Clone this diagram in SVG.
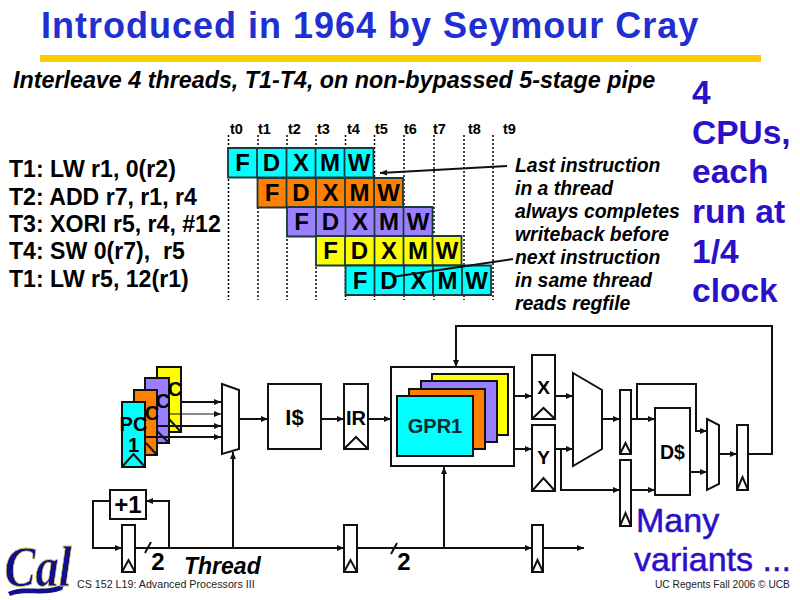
<svg xmlns="http://www.w3.org/2000/svg" width="800" height="600" viewBox="0 0 800 600">
<style>
text{font-family:"Liberation Sans",Arial,sans-serif;fill:#000}
.b{font-weight:700}
.bi{font-weight:700;font-style:italic}
.blue{fill:#2a10c8;font-weight:700;font-size:33.5px}
.instr{font-weight:700;font-size:23.1px;white-space:pre}
.note{font-weight:700;font-style:italic;font-size:19.4px}
.t{font-size:14.5px;font-weight:700}
.cy{fill:#00ffff}.or{fill:#ff8000}.pu{fill:#9a80ff}.ye{fill:#ffff00}
.cell{stroke:#1a3a3a;stroke-width:1.8}
.ct{font-weight:700;font-size:24px;text-anchor:middle}
.dot{stroke:#000;stroke-width:1.5;stroke-dasharray:2 2;fill:none}
.box{fill:#fff;stroke:#111;stroke-width:2}
.bc{stroke:#111;stroke-width:2}
.w{fill:none;stroke:#111;stroke-width:2}
.a{fill:none;stroke:#111;stroke-width:2;marker-end:url(#ah)}
.lb{font-weight:700;text-anchor:middle}
.many{font-size:34px;fill:#2a10c8;stroke:#2a10c8;stroke-width:.5}
</style>
<defs>
<marker id="ah" markerWidth="8" markerHeight="6" refX="7" refY="3" orient="auto" markerUnits="userSpaceOnUse"><path d="M0 0L7 3L0 6z" fill="#111"/></marker>
<g id="row"><path class="cell" d="M0 0h145.500v29.500h-145.500zM29 0v29.500M58.500 0v29.500M87.500 0v29.500M116.500 0v29.500" fill-opacity="0"/></g>
</defs>
<rect width="800" height="600" fill="#fff"/>
<g id="title"><text x="41" y="38" style="font-size:36px;fill:#2030d0;font-weight:700;letter-spacing:1px">Introduced in 1964 by Seymour Cray</text><rect x="40" y="55" width="721" height="7" fill="#ffcc00"/></g>
<g id="heading"><text x="13" y="88" class="bi" style="font-size:23.3px">Interleave 4 threads, T1-T4, on non-bypassed 5-stage pipe</text></g>
<g id="instructions">
<text x="9" y="177" class="instr">T1: LW r1, 0(r2)</text>
<text x="9" y="205" class="instr">T2: ADD r7, r1, r4</text>
<text x="9" y="232" class="instr">T3: XORI r5, r4, #12</text>
<text x="9" y="259" class="instr">T4: SW 0(r7),  r5</text>
<text x="9" y="287" class="instr">T1: LW r5, 12(r1)</text>
</g>
<g id="time-grid">
<path class="dot" d="M228.500 135V300M258 135V300M287 135V300M316 135V300M345.500 135V300M374.500 135V300M404 135V300M434 135V300M464 135V300M493 135V300"/>
<text x="230" y="134" class="t">t0</text><text x="258" y="134" class="t">t1</text><text x="288" y="134" class="t">t2</text><text x="317" y="134" class="t">t3</text><text x="347" y="134" class="t">t4</text><text x="375" y="134" class="t">t5</text><text x="404" y="134" class="t">t6</text><text x="433" y="134" class="t">t7</text><text x="468" y="134" class="t">t8</text><text x="503" y="134" class="t">t9</text>
</g>
<g id="pipeline">
<g transform="translate(228 148)"><rect class="cy" width="145.500" height="29.500"/><use href="#row"/><text class="ct" y="23"><tspan x="14.500">F</tspan><tspan x="43.500">D</tspan><tspan x="73">X</tspan><tspan x="102">M</tspan><tspan x="131">W</tspan></text></g>
<g transform="translate(257.500 178)"><rect class="or" width="145.500" height="29.500"/><use href="#row"/><text class="ct" y="23"><tspan x="14.500">F</tspan><tspan x="43.500">D</tspan><tspan x="73">X</tspan><tspan x="102">M</tspan><tspan x="131">W</tspan></text></g>
<g transform="translate(287 207)"><rect class="pu" width="145.500" height="29.500"/><use href="#row"/><text class="ct" y="23"><tspan x="14.500">F</tspan><tspan x="43.500">D</tspan><tspan x="73">X</tspan><tspan x="102">M</tspan><tspan x="131">W</tspan></text></g>
<g transform="translate(316 236)"><rect class="ye" width="145.500" height="29.500"/><use href="#row"/><text class="ct" y="23"><tspan x="14.500">F</tspan><tspan x="43.500">D</tspan><tspan x="73">X</tspan><tspan x="102">M</tspan><tspan x="131">W</tspan></text></g>
<g transform="translate(345.500 265.500)"><rect class="cy" width="145.500" height="29.500"/><use href="#row"/><text class="ct" y="23"><tspan x="14.500">F</tspan><tspan x="43.500">D</tspan><tspan x="73">X</tspan><tspan x="102">M</tspan><tspan x="131">W</tspan></text></g>
</g>
<g id="notes">
<text x="515" y="172" class="note">Last instruction</text>
<text x="515" y="195" class="note">in a thread</text>
<text x="515" y="218" class="note">always completes</text>
<text x="515" y="241" class="note">writeback before</text>
<text x="515" y="264" class="note">next instruction</text>
<text x="515" y="287" class="note">in same thread</text>
<text x="515" y="310" class="note">reads regfile</text>
</g>
<g id="side-note">
<text x="692" y="104" class="blue">4</text><text x="692" y="144" class="blue">CPUs,</text><text x="692" y="183" class="blue">each</text><text x="692" y="223" class="blue">run at</text><text x="692" y="263" class="blue">1/4</text><text x="692" y="302" class="blue">clock</text>
</g>
<g id="pc-stack">
<g id="pc4"><rect class="ye bc" x="157" y="367" width="24" height="65"/><path class="w" d="M169 419L181 432"/></g>
<g id="pc3"><rect class="pu bc" x="145" y="378" width="24" height="65"/><path class="w" d="M157 431L169 443"/></g>
<g id="pc2"><rect class="or bc" x="134" y="390" width="23" height="65"/><path class="w" d="M146 443L157 455"/></g>
<g id="pc1"><rect class="cy bc" x="122" y="402" width="23" height="65"/><path class="w" d="M122 467L133.500 454L145 467"/></g>
<text x="175" y="396" class="lb" style="font-size:20px">C</text>
<text x="163" y="408" class="lb" style="font-size:20px">C</text>
<text x="152" y="420" class="lb" style="font-size:20px">C</text>
<text x="133.500" y="431" class="lb" style="font-size:20px">PC</text>
<text x="133.500" y="452" class="lb" style="font-size:20px">1</text>
</g>
<g id="fetch-mux"><path class="box" d="M222 384L239 390V449L222 454z"/></g>
<g id="icache"><rect class="box" x="268" y="384" width="53" height="65"/><text x="294.500" y="425" class="lb" style="font-size:22px">I$</text></g>
<g id="ir"><rect class="box" x="344" y="384" width="24" height="65"/><path class="w" d="M344 449L356 437L368 449"/><text x="356" y="425" class="lb" style="font-size:20px">IR</text></g>
<g id="regfile">
<rect class="box" x="391" y="367" width="123" height="99"/>
<rect class="ye bc" x="432" y="374" width="76" height="61"/>
<rect class="pu bc" x="421" y="381" width="76" height="61"/>
<rect class="or bc" x="409" y="389" width="76" height="60"/>
<rect class="cy bc" x="397" y="396" width="76" height="60"/>
<text x="435" y="433" class="lb" style="font-size:20px;fill:#102a30">GPR1</text>
</g>
<g id="reg-x"><rect class="box" x="532" y="355" width="23" height="64"/><path class="w" d="M532 419L543.500 408L555 419"/><text x="543.500" y="394" class="lb" style="font-size:19px">X</text></g>
<g id="reg-y"><rect class="box" x="532" y="425" width="23" height="66"/><path class="w" d="M532 491L543.500 478L555 491"/><text x="543.500" y="464" class="lb" style="font-size:19px">Y</text></g>
<g id="alu"><path class="box" d="M573 373L602 390V449L573 466z"/></g>
<g id="reg-m1"><rect class="box" x="620" y="390" width="11" height="64"/><path class="w" d="M620 454L625.500 443L631 454"/></g>
<g id="reg-m2"><rect class="box" x="620" y="460" width="11" height="66"/><path class="w" d="M620 526L625.500 513L631 526"/></g>
<g id="dcache"><rect class="box" x="655" y="408" width="35" height="87"/><text x="672.500" y="459" class="lb" style="font-size:19.500px">D$</text></g>
<g id="wb-mux"><path class="box" d="M707 419L719 425V484L707 490z"/></g>
<g id="reg-w"><rect class="box" x="737" y="425" width="11" height="65"/><path class="w" d="M737 490L742.500 477L748 490"/></g>
<g id="incr"><rect class="box" x="110" y="490" width="36" height="29"/><text x="128" y="513" class="lb" style="font-size:24px">+1</text></g>
<g id="thread-reg1"><rect class="box" x="122" y="525" width="13" height="47"/><path class="w" d="M122 572L128.500 560L135 572"/></g>
<g id="thread-reg2"><rect class="box" x="344" y="525" width="13" height="47"/><path class="w" d="M344 572L350.500 560L357 572"/></g>
<g id="thread-reg3"><rect class="box" x="532" y="525" width="11" height="47"/><path class="w" d="M532 572L537.500 560L543 572"/></g>
<g id="connectors">
<path class="a" d="M181 402H221"/><path class="a" d="M169 414H221" style="stroke-width:1.200"/><path class="a" d="M157 426H221"/><path class="a" d="M145 437H221"/>
<path class="a" d="M239 419H268"/><path class="a" d="M321 419H344"/><path class="a" d="M368 419H391"/>
<path class="a" d="M514 396H532"/><path class="a" d="M514 449H532"/><path class="a" d="M555 396H573"/><path class="a" d="M555 449H573"/>
<path class="a" d="M561 449V490H620"/><path class="a" d="M602 419H620"/><path class="a" d="M631 419H655"/><path class="a" d="M631 490H655"/>
<path class="a" d="M637 419V384H696V431H707"/><path class="a" d="M690 472H707"/><path class="a" d="M719 454H737"/>
<path class="a" d="M748 454H772V326H456V367"/>
<path class="a" d="M110 501H93V548H122"/><path class="a" d="M169 548V501H146"/>
<path class="a" d="M135 548H344"/><path class="a" d="M233 548V452"/><path class="a" d="M357 548H532"/><path class="a" d="M444 548V467"/><path class="a" d="M543 548H584"/>
<path class="w" d="M145 553L151 542M391 554L397 543"/>
<path class="a" d="M507 166L380 173"/><path class="w" d="M513 259L392 277"/>
</g>
<g id="thread-labels">
<text x="158" y="570" class="lb" style="font-size:24px">2</text><text x="404" y="570" class="lb" style="font-size:24px">2</text>
<text x="184" y="574" class="bi" style="font-size:23px">Thread</text>
</g>
<g id="logo"><path d="M8 592C25 584 45 594 65 583L62 590C45 597 25 590 10 596z" fill="#10108c"/><text transform="translate(38 586) scale(.8 1)" style="font-family:'Liberation Serif',serif;font-style:italic;font-weight:700;font-size:58px;fill:#10108c;stroke:#d8c860;stroke-width:.8;text-anchor:middle">Cal</text></g>
<g id="footer"><text x="77" y="588" style="font-size:10.700px;fill:#222">CS 152 L19: Advanced Processors III</text><text x="655" y="588" style="font-size:10.200px;fill:#222">UC Regents Fall 2006 © UCB</text></g>
<g id="variants"><text x="636" y="532" class="many">Many</text><text x="634" y="571" class="many">variants ...</text></g>
</svg>
